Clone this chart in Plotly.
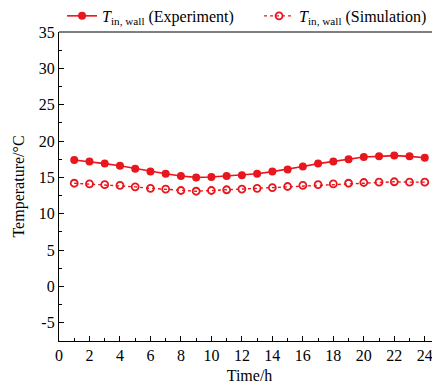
import plotly.graph_objects as go

hours = list(range(1, 25))
experiment = [17.4, 17.2, 16.9, 16.6, 16.2, 15.8, 15.5, 15.2, 15.0, 15.05, 15.2, 15.3,
              15.5, 15.8, 16.1, 16.5, 16.9, 17.2, 17.5, 17.8, 17.9, 18.0, 17.9, 17.7]
simulation = [14.2, 14.1, 14.0, 13.9, 13.7, 13.5, 13.4, 13.2, 13.1, 13.2, 13.3, 13.4,
              13.5, 13.6, 13.75, 13.9, 14.0, 14.1, 14.2, 14.3, 14.35, 14.4, 14.35, 14.35]
x_ticks = list(range(0, 25, 2))
y_ticks = list(range(-5, 36, 5))

red = "#e8161d"
fig = go.Figure()
fig.add_trace(go.Scatter(
    x=hours, y=experiment, mode="lines+markers",
    name="<i>T</i><sub>in, wall</sub> (Experiment)",
    line=dict(color=red, width=1.6),
    marker=dict(symbol="circle", size=8, color=red),
    legend="legend",
))
fig.add_trace(go.Scatter(
    x=hours, y=simulation, mode="lines+markers",
    name="<i>T</i><sub>in, wall</sub> (Simulation)",
    line=dict(color=red, width=1.4, dash="dot"),
    marker=dict(symbol="circle-open", size=7, color=red, line=dict(width=1.8)),
    legend="legend2",
))

axis_common = dict(
    showgrid=False, zeroline=False, showline=True, linecolor="black", linewidth=1.2,
    ticks="inside", ticklen=5, tickcolor="black", tickwidth=1,
    tickfont=dict(family="Liberation Serif", size=16, color="black"),
    automargin=False,
)
fig.update_xaxes(
    range=[0, 25], tickvals=x_ticks, ticktext=[str(v) for v in x_ticks],
    minor=dict(dtick=1, tick0=0, ticks="inside", ticklen=3, tickcolor="black"),
    title=dict(text="Time/h", font=dict(family="Liberation Serif", size=16, color="black"), standoff=6),
    **axis_common,
)
fig.update_yaxes(
    range=[-7.5, 35], tickvals=y_ticks, ticktext=[str(v) for v in y_ticks],
    minor=dict(dtick=2.5, tick0=0, ticks="inside", ticklen=3, tickcolor="black"),
    title=dict(text="Temperature/°C", font=dict(family="Liberation Serif", size=16, color="black"), standoff=10),
    **axis_common,
)
fig.add_shape(type="line", xref="paper", yref="paper", x0=0, x1=1, y0=1, y1=1,
              line=dict(color="black", width=1.2))

legend_common = dict(orientation="h", xref="paper", yref="paper", y=1.052,
                     xanchor="left", yanchor="middle",
                     font=dict(family="Liberation Serif", size=16, color="black"),
                     bgcolor="rgba(0,0,0,0)")
fig.update_layout(
    width=432, height=381,
    margin=dict(l=51, r=0, t=24, b=48, autoexpand=False),
    plot_bgcolor="white", paper_bgcolor="white",
    showlegend=True,
    legend=dict(x=0.008, **legend_common),
    legend2=dict(x=0.525, **legend_common),
)
fig.write_html("out.html")
